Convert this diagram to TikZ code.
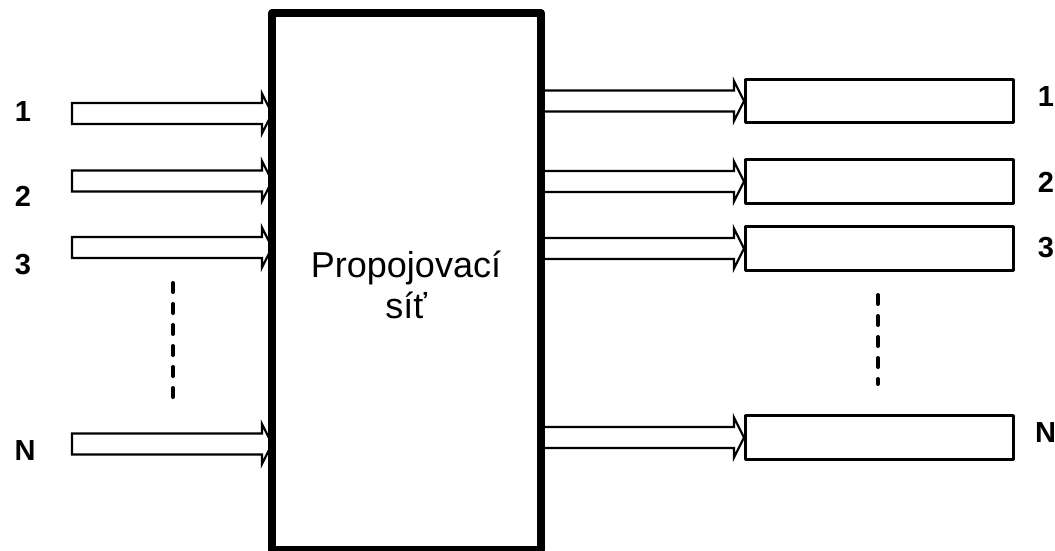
\documentclass[tikz,border=0pt]{standalone}
\usepackage{fontspec}
\setmainfont{Liberation Sans}
\usetikzlibrary{calc}
\tikzset{
  fat/.style={draw=black, fill=white, line width=2.2pt, line join=miter},
  outbox/.style={draw=black, fill=white, line width=3pt, line join=round},
  lbl/.style={font=\fontsize{29}{34}\selectfont\bfseries, inner sep=0pt},
  dots/.style={line width=4pt, line cap=round, dash pattern=on 9pt off 12pt}
}
% hollow arrow from #1 (start, free end) to #2 (tip)
\newcommand\fatarr[2]{%
  \draw[fat] let \p1=#1, \p2=#2 in
    (\x1,{\y1+10.5pt}) -- ({\x2-10pt},{\y1+10.5pt}) -- ({\x2-10pt},{\y1+20pt})
    -- (\x2,\y1) -- ({\x2-10pt},{\y1-20pt}) -- ({\x2-10pt},{\y1-10.5pt})
    -- (\x1,{\y1-10.5pt}) -- cycle;}
\begin{document}
\begin{tikzpicture}[x=1pt,y=-1pt]
\useasboundingbox (0,0) rectangle (1055,551);
% input free ends
\coordinate (i1) at (72,113.5);
\coordinate (i2) at (72,181);
\coordinate (i3) at (72,247.5);
\coordinate (iN) at (72,444);
% output boxes
\node[outbox, minimum width=268pt, minimum height=43pt, anchor=west] (o1) at (744,101) {};
\node[outbox, minimum width=268pt, minimum height=44pt, anchor=west] (o2) at (744,181.5) {};
\node[outbox, minimum width=268pt, minimum height=44pt, anchor=west] (o3) at (744,248.5) {};
\node[outbox, minimum width=268pt, minimum height=44pt, anchor=west] (oN) at (744,437.5) {};
% big box centre line x: 272..541, y: 13..550
\coordinate (netE) at (541,13);
% arrows
\fatarr{(i1)}{(272,113.5)}
\fatarr{(i2)}{(272,181)}
\fatarr{(i3)}{(272,247.5)}
\fatarr{(iN)}{(272,444)}
\fatarr{(netE |- o1.west)}{(o1.west)}
\fatarr{(netE |- o2.west)}{(o2.west)}
\fatarr{(netE |- o3.west)}{(o3.west)}
\fatarr{(netE |- oN.west)}{(oN.west)}
% big box
\node[draw=black, line width=8pt, line join=round, minimum width=269pt, minimum height=537pt, inner sep=0pt] (net) at (406.5,281.5) {};
\node[align=center, font=\fontsize{36}{41}\selectfont, inner sep=0pt] (txt) at (406,285) {Propojovací\\síť};
% labels
\node[lbl] (l1) at (23,111.5) {1};
\node[lbl] (l2) at (23,196) {2};
\node[lbl] (l3) at (23,265) {3};
\node[lbl] (lN) at (25,451) {N};
\node[lbl] (r1) at (1046,97) {1};
\node[lbl] (r2) at (1046,182) {2};
\node[lbl] (r3) at (1046,248) {3};
\node[lbl, anchor=west] (rN) at (1035,433) {N};
% dashed continuation
\coordinate (d1a) at (173,283);
\coordinate (d1b) at (173,400);
\coordinate (d2a) at (878,295);
\coordinate (d2b) at (878,384);
\draw[dots] (d1a) -- (d1b);
\draw[dots] (d2a) -- (d2b);
\end{tikzpicture}
\end{document}
